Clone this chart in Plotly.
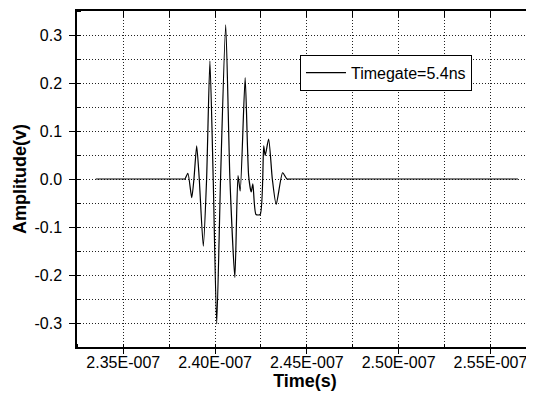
import plotly.graph_objects as go

# Time in seconds, amplitude in volts
time_s = [2.335e-7, 2.3830e-7, 2.3836e-7, 2.3852e-7, 2.3873e-7, 2.3885e-7, 2.3900e-7, 2.3914e-7,
          2.3936e-7, 2.3954e-7, 2.3972e-7, 2.3990e-7, 2.4009e-7, 2.4030e-7, 2.4058e-7,
          2.4081e-7, 2.4108e-7, 2.4125e-7, 2.4137e-7, 2.4164e-7, 2.4183e-7, 2.4197e-7,
          2.4206e-7, 2.4223e-7, 2.4246e-7, 2.4265e-7, 2.4273e-7, 2.4292e-7, 2.4312e-7,
          2.4333e-7, 2.4368e-7, 2.4392e-7, 2.4410e-7, 2.4450e-7, 2.565e-7]
amplitude_v = [0.0, 0.0, 0.0, 0.012, -0.039, 0.0, 0.069, 0.0,
               -0.140, 0.0, 0.246, 0.0, -0.302, 0.0, 0.321,
               0.0, -0.205, 0.007, -0.025, 0.211, 0.007, -0.027,
               -0.010, -0.074, -0.074, 0.069, 0.049, 0.083, 0.0,
               -0.053, 0.013, 0.0, 0.0, 0.0, 0.0]

x_tick_vals = [2.35e-7, 2.40e-7, 2.45e-7, 2.50e-7, 2.55e-7]
x_tick_text = ["2.35E-007", "2.40E-007", "2.45E-007", "2.50E-007", "2.55E-007"]
y_tick_vals = [0.3, 0.2, 0.1, 0.0, -0.1, -0.2, -0.3]
y_tick_text = ["0.3", "0.2", "0.1", "0.0", "-0.1", "-0.2", "-0.3"]

series_name = "Timegate=5.4ns"

x_range = [2.3248e-7, 2.5732e-7]
y_range = [-0.35, 0.35]

fig = go.Figure()
fig.add_trace(go.Scatter(
    x=time_s, y=amplitude_v, mode="lines", name=series_name,
    line=dict(color="black", width=1.2, shape="spline", smoothing=0.6),
))

font_family = "Liberation Sans, Arial, sans-serif"
grid_color = "#222222"
grid_dash = "1px,2px"

# page body has an 8px margin, so the figure is sized to fill the rest of the window
fig.update_layout(
    width=526, height=397,
    margin=dict(l=69, r=1, t=3, b=58),
    paper_bgcolor="white", plot_bgcolor="white",
    font=dict(family=font_family, color="black", size=16),
    showlegend=True,
    legend=dict(
        x=0.489, y=0.87, xanchor="left", yanchor="top",
        bgcolor="white", bordercolor="black", borderwidth=1,
        font=dict(size=16), itemwidth=40,
        tracegroupgap=0,
    ),
    xaxis=dict(
        range=x_range, showline=True, linecolor="black", linewidth=1.5,
        tickvals=x_tick_vals, ticktext=x_tick_text,
        ticks="outside", ticklen=5, tickcolor="black", tickwidth=1.2,
        showgrid=True, gridcolor=grid_color, griddash=grid_dash, gridwidth=1,
        minor=dict(dtick=0.025e-7, tick0=2.35e-7, showgrid=True, gridcolor=grid_color,
                   griddash=grid_dash, ticks="inside", ticklen=3, tickcolor="black"),
        zeroline=False, automargin=False, ticklabelstandoff=-5,
        title=dict(text="<b>Time(s)</b>", font=dict(size=18), standoff=0),
        tickfont=dict(size=16),
    ),
    xaxis2=dict(
        range=x_range, overlaying="x", side="top", anchor="y",
        showline=True, linecolor="black", linewidth=1.5,
        dtick=0.025e-7, tick0=2.35e-7, ticks="inside", ticklen=6, tickcolor="black",
        showticklabels=False, showgrid=False, zeroline=False, automargin=False,
    ),
    yaxis=dict(
        range=y_range, showline=True, linecolor="black", linewidth=1.5,
        tickvals=y_tick_vals, ticktext=y_tick_text,
        ticks="outside", ticklen=6, tickcolor="black", tickwidth=1.2,
        showgrid=True, gridcolor=grid_color, griddash=grid_dash, gridwidth=1,
        minor=dict(dtick=0.05, tick0=0.0, showgrid=True, gridcolor=grid_color,
                   griddash=grid_dash, ticks="inside", ticklen=4, tickcolor="black"),
        zeroline=False, automargin=False, ticklabelstandoff=4,
        title=dict(text="<b>Amplitude(v)</b>", font=dict(size=18), standoff=3),
        tickfont=dict(size=16),
    ),
    yaxis2=dict(
        range=y_range, overlaying="y", side="right", anchor="x",
        showline=False, dtick=0.05, tick0=0.0, ticks="inside", ticklen=4,
        tickcolor="black", showticklabels=False, showgrid=False, zeroline=False,
        automargin=False,
    ),
)

# mirrored axes (ticks only, no data)
fig.add_trace(go.Scatter(x=[x_range[0]], y=[0], xaxis="x2", yaxis="y2", mode="none",
                         showlegend=False, hoverinfo="skip"))

fig.write_html("out.html")
